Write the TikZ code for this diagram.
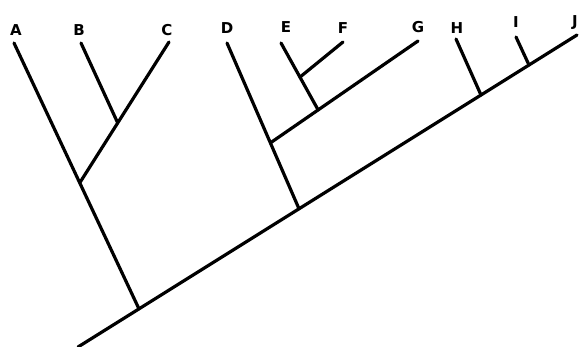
\documentclass[tikz,border=0pt]{standalone}
\usepackage{fontspec}
\newfontfamily\lblfont{DejaVu Sans}
\usetikzlibrary{calc}
\begin{document}
\begin{tikzpicture}[x=1pt,y=-1pt,
  branch/.style={line width=3.2pt,line cap=round,black},
  taxon/.style={font=\lblfont\bfseries\fontsize{15}{15}\selectfont,inner sep=0pt,anchor=center}]
\useasboundingbox (0,0) rectangle (580,347);
% trunk
\coordinate (bot) at (78,347);
\coordinate (tJ) at (577,35);
\coordinate (root) at ($(bot)!0.1222!(tJ)$);
\coordinate (nD) at ($(bot)!0.4429!(tJ)$);
\coordinate (nH) at ($(bot)!0.8076!(tJ)$);
\coordinate (nI) at ($(bot)!0.9038!(tJ)$);
% tips
\coordinate (tA) at (14,43);
\coordinate (tB) at (81,43);
\coordinate (tC) at (169,42);
\coordinate (tD) at (227,43);
\coordinate (tE) at (281,43);
\coordinate (tF) at (343,42);
\coordinate (tG) at (418,41);
\coordinate (tH) at (456,39);
\coordinate (tI) at (516,37);
% internal nodes
\coordinate (nABC) at ($(root)!0.474!(tA)$);
\coordinate (nBC) at ($(nABC)!0.4255!(tC)$);
\coordinate (nDG) at ($(nD)!0.3976!(tD)$);
\coordinate (nEG) at ($(nDG)!0.3235!(tG)$);
\coordinate (nEF) at ($(nEG)!0.49!(tE)$);
% branches
\draw[branch] (bot) -- (tJ);
\draw[branch] (root) -- (tA);
\draw[branch] (nABC) -- (tC);
\draw[branch] (nBC) -- (tB);
\draw[branch] (nD) -- (tD);
\draw[branch] (nDG) -- (tG);
\draw[branch] (nEG) -- (tE);
\draw[branch] (nEF) -- (tF);
\draw[branch] (nH) -- (tH);
\draw[branch] (nI) -- (tI);
% labels
\node[taxon] (lA) at (16,30) {A};
\node[taxon] (lB) at (79,30) {B};
\node[taxon] (lC) at (167,30) {C};
\node[taxon] (lD) at (227,28) {D};
\node[taxon] (lE) at (286,27) {E};
\node[taxon] (lF) at (343,28) {F};
\node[taxon] (lG) at (418,27) {G};
\node[taxon] (lH) at (457,28) {H};
\node[taxon] (lI) at (516,22) {I};
\node[taxon] (lJ) at (575,23) {J};
\end{tikzpicture}
\end{document}
